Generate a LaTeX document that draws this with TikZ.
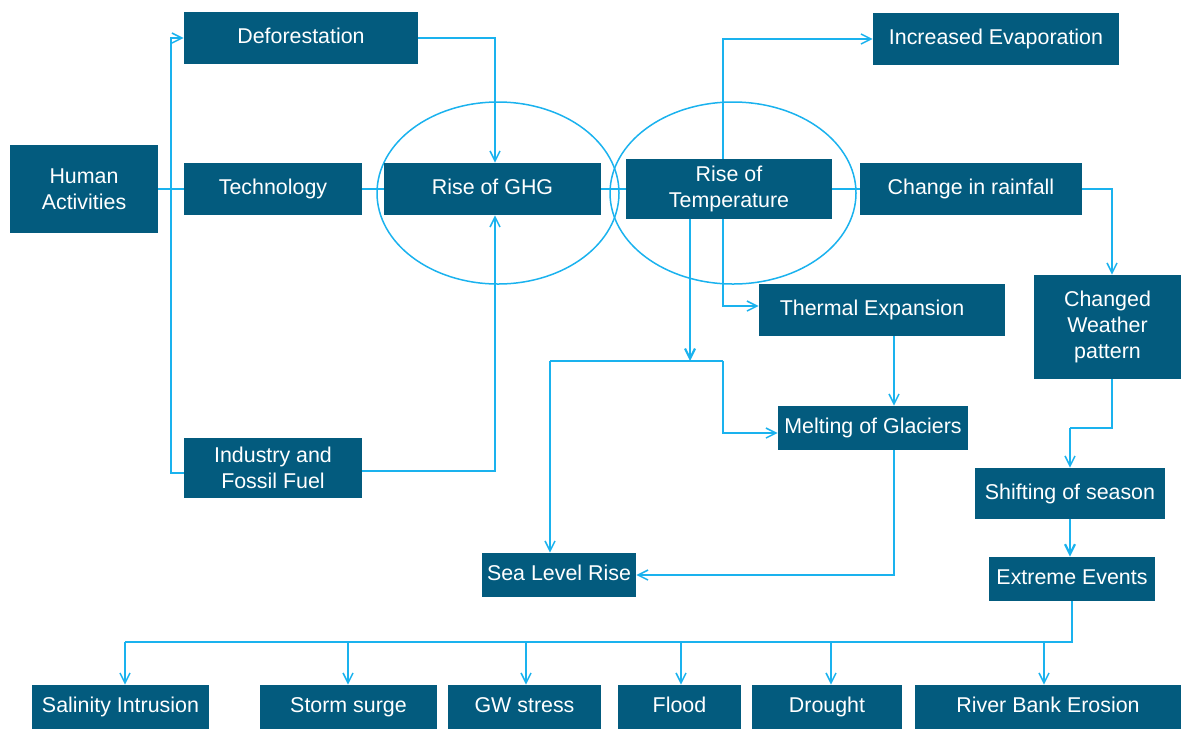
\documentclass[tikz,border=0pt]{standalone}
\usepackage{fontspec}
\setmainfont{Liberation Sans}
\usetikzlibrary{arrows.meta}
\definecolor{boxc}{HTML}{035B7E}
\definecolor{linec}{HTML}{1AB2EE}
\begin{document}
\begin{tikzpicture}[x=0.5pt,y=-0.5pt,
  box/.style={fill=boxc, text=white, inner sep=0pt, align=center, font=\fontsize{10.7}{12.8}\selectfont},
  one/.style={box, text height=7.7pt, text depth=2.2pt},
  conn/.style={draw=linec, line width=0.75pt},
  arr/.style={conn, -{Straight Barb[length=5pt,width=5pt]}},
  thk/.style={line width=1.1pt},
  oval/.style={draw=linec, line width=0.75pt}]
\useasboundingbox (0,0) rectangle (1181,729);
% ellipses (behind)
\draw[oval] (498,193) ellipse [x radius=60.5pt, y radius=45.5pt];
\draw[oval] (733,193) ellipse [x radius=61.5pt, y radius=45.5pt];
% boxes
\node[box, minimum width=74pt, minimum height=44pt] (human) at (84,189) {Human\\Activities};
\node[one, minimum width=117pt, minimum height=26pt] (defor) at (301,38) {Deforestation};
\node[one, minimum width=89pt, minimum height=26pt] (tech) at (273,189) {Technology};
\node[box, minimum width=89pt, minimum height=30pt] (indus) at (273,468) {Industry and\\Fossil Fuel};
\node[one, minimum width=108.5pt, minimum height=26pt] (ghg) at (492.5,189) {Rise of GHG};
\node[box, minimum width=103pt, minimum height=30pt] (temp) at (729,189) {Rise of\\Temperature};
\node[one, minimum width=123pt, minimum height=26pt] (evap) at (996,39) {Increased Evaporation};
\node[one, minimum width=111pt, minimum height=26pt] (rain) at (971,189) {Change in rainfall};
\node[one, minimum width=123pt, minimum height=26pt] (thermal) at (882,310) {Thermal Expansion\hspace*{10pt}};
\node[box, minimum width=73.5pt, minimum height=52pt, font=\fontsize{10.7}{13}\selectfont] (changed) at (1107.5,327) {Changed\\Weather\\pattern};
\node[one, minimum width=95pt, minimum height=22pt] (melt) at (873,428) {Melting of Glaciers};
\node[one, minimum width=77pt, minimum height=22pt] (sea) at (559,575) {Sea Level Rise};
\node[one, minimum width=95pt, minimum height=25.5pt] (shift) at (1070,493.5) {Shifting of season};
\node[one, minimum width=83pt, minimum height=22pt] (extreme) at (1072,579) {Extreme Events};
\node[one, minimum width=88.5pt, minimum height=22pt] (salin) at (120.5,707) {Salinity Intrusion};
\node[one, minimum width=88.5pt, minimum height=22pt] (storm) at (348.5,707) {Storm surge};
\node[one, minimum width=76.5pt, minimum height=22pt] (gw) at (524.5,707) {GW stress};
\node[one, minimum width=61.5pt, minimum height=22pt] (flood) at (679.5,707) {Flood};
\node[one, minimum width=75pt, minimum height=22pt] (drought) at (827,707) {Drought};
\node[one, minimum width=133pt, minimum height=22pt] (river) at (1048,707) {River Bank Erosion};
% junction coordinates
\coordinate (jh) at (171,189);
\coordinate (jt) at (690,361);
\coordinate (jl) at (550,361);
\coordinate (jr) at (723,361);
\coordinate (jc) at (1070,428);
\coordinate (jb) at (1072,642);
\coordinate (jbl) at (125,642);
% connectors
\draw[conn] (human.east) -- (tech.west);
\draw[arr] (jh) |- (defor.west);
\draw[conn] (jh) |- (indus.west |- 0,473);
\draw[arr] (defor.east) -| (ghg.north -| 495,0);
\draw[arr] (indus.east |- 0,471) -| (ghg.south -| 495,0);
\draw[conn] (tech.east) -- (ghg.west);
\draw[conn] (ghg.east) -- (temp.west);
\draw[conn] (temp.east) -- (rain.west);
\draw[arr] (temp.north -| 723,0) |- (evap.west);
\draw[arr] (rain.east) -| (changed.north -| 1112,0);
\draw[arr] (temp.south -| 723,0) |- (thermal.west |- 0,306);
\draw[arr,thk] (temp.south -| jt) -- (jt);
\draw[conn] (jl) -- (jr);
\draw[arr] (jr) |- (melt.west |- 0,433);
\draw[arr] (jl) -- (sea.north -| jl);
\draw[arr] (thermal.south -| 894,0) -- (melt.north -| 894,0);
\draw[arr] (melt.south -| 894,0) |- (sea.east);
\draw[conn] (changed.south -| 1112,0) |- (jc);
\draw[arr] (jc) -- (shift.north);
\draw[arr,thk] (shift.south) -- (extreme.north -| shift.south);
\draw[conn,thk] (extreme.south -| jb) -- (jb) -- (jbl);
\draw[arr] (jbl) -- (salin.north -| jbl);
\foreach \n/\x in {storm/348, gw/526, flood/681, drought/831, river/1044} {
  \coordinate (b\n) at (\x,642);
  \draw[arr] (b\n) -- (\n.north -| b\n);
}
\end{tikzpicture}
\end{document}
